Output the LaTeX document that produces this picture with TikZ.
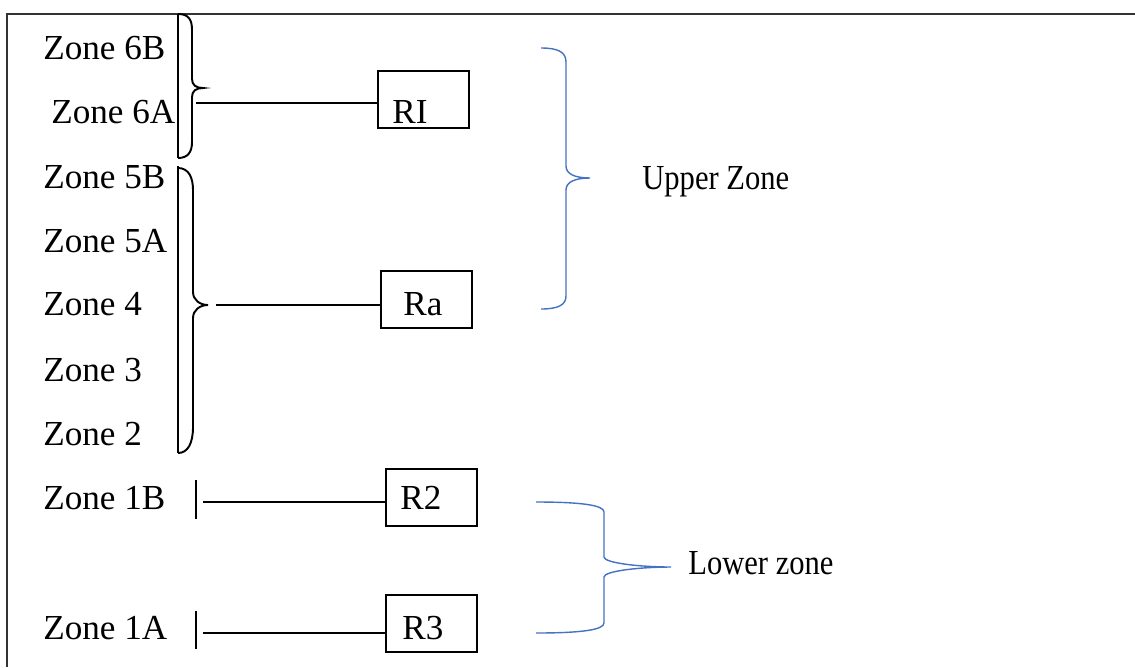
\documentclass[tikz,border=0pt]{standalone}
\usepackage{graphicx}
\usepackage{fontspec}
\setmainfont{Liberation Serif}
\definecolor{officeblue}{RGB}{68,114,196}
\tikzset{
  zonelbl/.style={font=\fontsize{20}{24}\selectfont, anchor=base west, inner sep=0pt},
  rbox/.style={draw, line width=1.1pt, anchor=north west, inner sep=0pt,
    minimum width=1.82cm, minimum height=1.14cm},
  blkline/.style={line width=1.1pt},
  bluebrace/.style={draw=officeblue, line width=0.8pt}
}
\begin{document}
\begin{tikzpicture}[x=0.02cm, y=-0.02cm]
                \useasboundingbox (0,0) rectangle (1135,667);
                % Draw the frame
                \draw[line width=1.2pt, black!80] (1135,14) -- (7,14) -- (7,667);

                % Zone labels
                \node[zonelbl] (z6b) at (43,59) {Zone 6B};
                \node[zonelbl] (z6a) at (51,123) {Zone 6A};
                \node[zonelbl] (z5b) at (43,188) {Zone 5B};
                \node[zonelbl] (z5a) at (43,252) {Zone 5A};
                \node[zonelbl] (z4) at (43,315) {Zone 4};
                \node[zonelbl] (z3) at (43,381) {Zone 3};
                \node[zonelbl] (z2) at (43,445) {Zone 2};
                \node[zonelbl] (z1b) at (43,509) {Zone 1B};
                \node[zonelbl] (z1a) at (43,639) {Zone 1A};

                %Draw the brace of zones 6B and 6A
                \draw[blkline] (178,14) -- (178,158);
                \draw[blkline] (178,14) .. controls (189,14) and (192,20) .. (192,30)
                  -- (192,79) .. controls (192,85) and (196,88) .. (203,88)
                  .. controls (196,88) and (192,91) .. (192,97)
                  -- (192,142) .. controls (192,152) and (188,158) .. (178,158);
                \coordinate (b6) at (196,103);

                %Draw the brace of zones 5B to 2
                \draw[blkline] (178,166) -- (178,453);
                \draw[blkline] (178,168) .. controls (189,168) and (193,178) .. (193,190)
                  -- (193,292) .. controls (193,300) and (200,305) .. (208,305)
                  .. controls (200,305) and (193,310) .. (193,318)
                  -- (193,427) .. controls (193,443) and (188,453) .. (178,453);
                \coordinate (b5) at (216,305);

                %Draw the ticks of zones 1B and 1A
                \draw[blkline] (196,480) -- (196,519);
                \draw[blkline] (196,611) -- (196,649);
                \coordinate (b1b) at (203,502);
                \coordinate (b1a) at (203,633);

                % Receivers
                \node[rbox] (r1) at (377,70) {};
                \node[rbox] (ra) at (380,270) {};
                \node[rbox] (r2) at (385,468) {};
                \node[rbox] (r3) at (385,594) {};
                \node[zonelbl] (r1lbl) at (392,123) {RI};
                \node[zonelbl] (ralbl) at (403,315) {Ra};
                \node[zonelbl] (r2lbl) at (400,509) {R2};
                \node[zonelbl] (r3lbl) at (402,639) {R3};

                % Connectors
                \draw[blkline] (b6) -- (r1.west |- b6);
                \draw[blkline] (b5) -- (ra.west |- b5);
                \draw[blkline] (b1b) -- (r2.west |- b1b);
                \draw[blkline] (b1a) -- (r3.west |- b1a);

                %Draw the upper zone brace
                \draw[bluebrace] (541,48) .. controls (558,48) and (566,52) .. (566,62)
                  -- (566,166) .. controls (566,174) and (575,178) .. (590,178)
                  .. controls (575,178) and (566,182) .. (566,190)
                  -- (566,296) .. controls (566,305) and (558,309) .. (541,309);
                \node[zonelbl] (upper) at (642,189) {\scalebox{0.87}[1]{Upper Zone}};

                %Draw the lower zone brace
                \draw[bluebrace] (536,502) .. controls (580,502) and (604,505) .. (604,512)
                  -- (604,557) .. controls (604,563) and (640,567) .. (671,567)
                  .. controls (640,567) and (604,571) .. (604,577)
                  -- (604,623) .. controls (604,630) and (580,633) .. (536,633);
                \node[zonelbl] (lower) at (688,574) {\scalebox{0.87}[1]{Lower zone}};
\end{tikzpicture}
\end{document}
